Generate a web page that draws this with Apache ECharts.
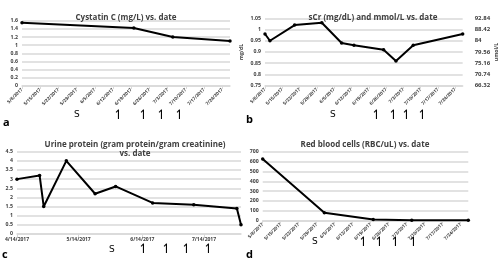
<!DOCTYPE html>
<html>
<head>
<meta charset="utf-8">
<script src="https://cdn.jsdelivr.net/npm/echarts@6/dist/echarts.min.js"></script>
<style>
  html, body { margin: 0; padding: 0; background: #fff; }
  #chart { width: 500px; height: 261px; }
</style>
</head>
<body>
<div id="chart"></div>
<script>
// ---- data ----
var cysDates = ['5/8/2017', '6/20/2017', '7/5/2017', '7/27/2017'];
var cysValues = [1.55, 1.42, 1.2, 1.1];

var scrDates = ['5/8/2017', '5/10/2017', '5/20/2017', '5/31/2017', '6/8/2017',
                '6/13/2017', '6/25/2017', '6/30/2017', '7/7/2017', '7/27/2017'];
var scrValues = [0.98, 0.95, 1.02, 1.03, 0.94, 0.93, 0.91, 0.86, 0.93, 0.98];
var umolLabels = ['66.32', '70.74', '75.16', '79.56', '84', '88.42', '92.84'];

var upcrDates = ['4/14/2017', '4/25/2017', '4/27/2017', '5/8/2017', '5/22/2017',
                 '6/1/2017', '6/19/2017', '7/9/2017', '7/30/2017', '8/1/2017'];
var upcrValues = [3.0, 3.2, 1.5, 4.0, 2.2, 2.6, 1.7, 1.6, 1.4, 0.5];
var upcrTickDates = ['4/14/2017', '5/14/2017', '6/14/2017', '7/14/2017'];

var rbcDates = ['5/8/2017', '6/1/2017', '6/20/2017', '7/5/2017', '7/27/2017'];
var rbcValues = [625, 80, 12, 5, 5];

// weekly axis (a, b, d) runs from 5/8 to 7/27, monthly axis (c) from 4/14 to 8/1
var weekStart = '5/8/2017', weekEnd = '7/27/2017';
var monthStart = '4/14/2017', monthEnd = '8/1/2017';

var DAY = 86400000;
function toUtc(s) {
  var p = s.split('/');
  return Date.UTC(+p[2], +p[0] - 1, +p[1]);
}
function offset(s, base) { return Math.round((toUtc(s) - toUtc(base)) / DAY); }
function fmt(off, base) {
  var d = new Date(toUtc(base) + off * DAY);
  return (d.getUTCMonth() + 1) + '/' + d.getUTCDate() + '/' + d.getUTCFullYear();
}
function pairs(dates, vals, base) {
  return dates.map(function (d, i) { return [offset(d, base), vals[i]]; });
}

var FONT = 'Open Sans';
var gray = '#404040';
var gridCol = '#d9d9d9';

function xAxisWeek(gi) {
  return {
    type: 'value', gridIndex: gi, min: 0, max: offset(weekEnd, weekStart), interval: 7,
    axisLine: { lineStyle: { color: gridCol, width: 1.5 } },
    axisTick: { show: true, length: 3, lineStyle: { color: gridCol } },
    splitLine: { show: false },
    axisLabel: {
      rotate: 45, fontSize: 4.6, fontWeight: 'bold', color: gray, fontFamily: FONT, margin: 3,
      showMaxLabel: false,
      formatter: function (v) { return fmt(v, weekStart); }
    }
  };
}
function yAxis(gi, min, max, step, extra) {
  var o = {
    type: 'value', gridIndex: gi, min: min, max: max, interval: step,
    axisLine: { show: false }, axisTick: { show: false },
    splitLine: { lineStyle: { color: gridCol, width: 1.5 } },
    axisLabel: { fontSize: 5.2, fontWeight: 'bold', color: gray, fontFamily: FONT, margin: 4 }
  };
  for (var k in extra) o[k] = extra[k];
  return o;
}
function lineSeries(xi, yi, data) {
  return {
    type: 'line', xAxisIndex: xi, yAxisIndex: yi, data: data,
    symbol: 'circle', symbolSize: 3.5,
    lineStyle: { color: '#000', width: 2 },
    itemStyle: { color: '#000' },
    animation: false
  };
}
function titleAt(text, x, y) {
  return {
    text: text, left: x, top: y, textAlign: 'center',
    textStyle: { fontSize: 8, fontWeight: 'bold', color: gray, fontFamily: FONT, lineHeight: 9 }
  };
}
function note(text, x, y, size, bold) {
  return {
    type: 'text', left: x, top: y,
    style: { text: text, fontSize: size, fontFamily: bold ? FONT : 'DejaVu Sans',
             fontWeight: bold ? 'bold' : 'normal', fill: '#000' }
  };
}

var chart = echarts.init(document.getElementById('chart'), null, { renderer: 'canvas' });

var upcrMax = offset(monthEnd, monthStart);
var upcrTicks = upcrTickDates.map(function (d) { return offset(d, monthStart); });

var option = {
  backgroundColor: '#fff',
  animation: false,
  title: [
    titleAt('Cystatin C (mg/L) vs. date', 121, 8),
    titleAt('sCr (mg/dL) and mmol/L vs. date', 368, 8),
    titleAt('Urine protein (gram protein/gram creatinine)\nvs. date', 130, 135),
    titleAt('Red blood cells (RBC/uL) vs. date', 360, 135)
  ],
  grid: [
    { left: 22, top: 20.7, width: 208, height: 65.3 },
    { left: 265, top: 18.3, width: 205, height: 67.4 },
    { left: 17, top: 151.7, width: 224, height: 82.3 },
    { left: 262.7, top: 151.7, width: 205.6, height: 69 }
  ],
  xAxis: [
    xAxisWeek(0),
    xAxisWeek(1),
    {
      type: 'value', gridIndex: 2, min: 0, max: upcrMax,
      axisLine: { lineStyle: { color: gridCol, width: 1.5 } },
      axisTick: { show: true, length: 3, customValues: upcrTicks, lineStyle: { color: gridCol } },
      splitLine: { show: false },
      axisLabel: {
        customValues: upcrTicks, fontSize: 5, fontWeight: 'bold', color: gray, fontFamily: FONT, margin: 3,
        formatter: function (v) { return fmt(v, monthStart); }
      }
    },
    xAxisWeek(3)
  ],
  yAxis: [
    yAxis(0, 0, 1.6, 0.2),
    yAxis(1, 0.75, 1.05, 0.05, {
      name: 'mg/dL', nameLocation: 'middle', nameGap: 21, nameRotate: 90,
      nameTextStyle: { fontSize: 5.2, fontWeight: 'bold', color: gray, fontFamily: FONT }
    }),
    yAxis(1, 66.32, 92.84, 4.42, {
      position: 'right', splitLine: { show: false },
      name: 'umol/L', nameLocation: 'middle', nameGap: 10, nameRotate: 90,
      nameTextStyle: { fontSize: 5.2, fontWeight: 'bold', color: gray, fontFamily: FONT },
      axisLabel: {
        fontSize: 6, fontWeight: 'bold', color: gray, fontFamily: FONT, margin: 12,
        formatter: function (v) { return umolLabels[Math.round((v - 66.32) / 4.42)]; }
      }
    }),
    yAxis(2, 0, 4.5, 0.5),
    yAxis(3, 0, 700, 100)
  ],
  series: [
    lineSeries(0, 0, pairs(cysDates, cysValues, weekStart)),
    lineSeries(1, 1, pairs(scrDates, scrValues, weekStart)),
    lineSeries(2, 3, pairs(upcrDates, upcrValues, monthStart)),
    lineSeries(3, 4, pairs(rbcDates, rbcValues, weekStart))
  ],
  graphic: [
    // panel letters
    note('a', 3, 117, 11, true),
    note('b', 246, 114, 11, true),
    note('c', 2, 249, 11, true),
    note('d', 246, 249, 11, true),
    // hand-drawn "S" and arrow marks under each panel
    note('S', 74, 110, 9, false),
    note('\u21BF', 113, 109, 13, false), note('\u21BF', 138, 109, 13, false),
    note('\u21BF', 156, 109, 13, false), note('\u21BF', 174, 109, 13, false),
    note('S', 330, 110, 9, false),
    note('\u21BF', 371, 109, 13, false), note('\u21BF', 388, 109, 13, false),
    note('\u21BF', 401, 109, 13, false), note('\u21BF', 417, 109, 13, false),
    note('S', 109, 245, 9, false),
    note('\u21BF', 138, 243, 13, false), note('\u21BF', 161, 243, 13, false),
    note('\u21BF', 181, 243, 13, false), note('\u21BF', 203, 243, 13, false),
    note('S', 312, 237, 9, false),
    note('\u21BF', 358, 236, 13, false), note('\u21BF', 374, 236, 13, false),
    note('\u21BF', 390, 236, 13, false), note('\u21BF', 408, 236, 13, false)
  ]
};
chart.setOption(option);
</script>
</body>
</html>
